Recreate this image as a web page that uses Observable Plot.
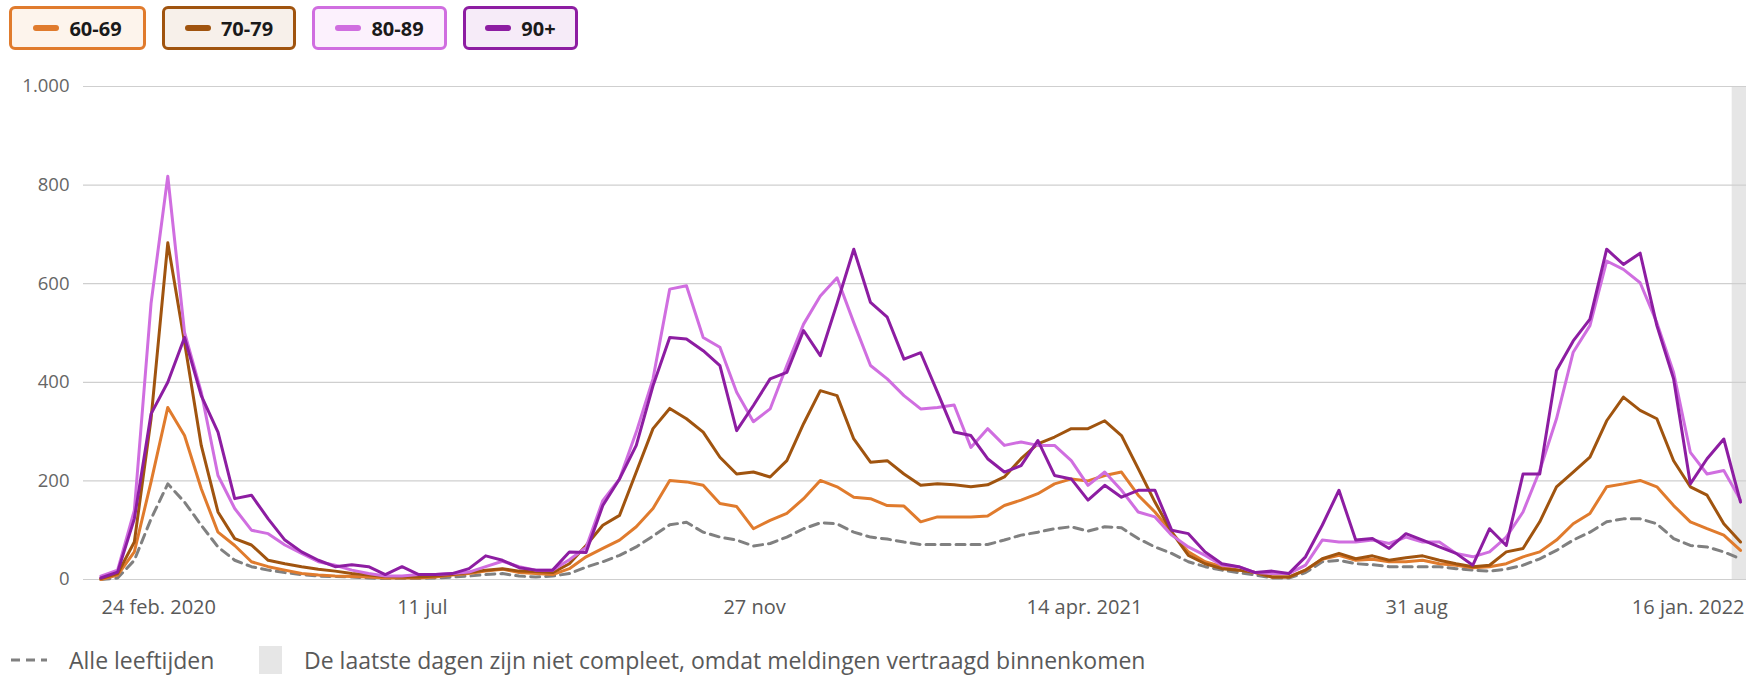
<!DOCTYPE html>
<html>
<head>
<meta charset="utf-8">
<script src="https://cdn.jsdelivr.net/npm/d3@7"></script>
<script src="https://cdn.jsdelivr.net/npm/@observablehq/plot@0.6"></script>
<style>
  html, body { margin: 0; padding: 0; background: #fff; }
  body { width: 1753px; height: 684px; position: relative; overflow: hidden; font-family: "Open Sans", "Noto Sans", sans-serif; }
  #legend { position: absolute; left: 9px; top: 6px; display: flex; gap: 16px; }
  .box { box-sizing: border-box; height: 44px; border: 3px solid; border-radius: 6px; display: flex; align-items: center; justify-content: center; gap: 10px; font-weight: 700; font-size: 20px; color: #1a1a1a; }
  .sw { width: 26px; height: 6px; border-radius: 3px; }
  #chart { position: absolute; left: 0; top: 60px; }
  #bottom { position: absolute; left: 0; top: 640px; width: 1753px; height: 40px; font-size: 23px; color: #595959; }
  #bottom .item { position: absolute; top: 0; height: 40px; display: flex; align-items: center; }
</style>
</head>
<body>
<div id="legend"></div>
<div id="chart"></div>
<div id="bottom">
  <div class="item" style="left:11px"><svg width="36" height="6"><line x1="0" y1="3" x2="36" y2="3" stroke="#808080" stroke-width="3" stroke-dasharray="9,6"/></svg></div>
  <div class="item" style="left:69px">Alle leeftijden</div>
  <div class="item" style="left:259px"><div style="width:23px;height:28px;background:#e6e6e6"></div></div>
  <div class="item" style="left:304px">De laatste dagen zijn niet compleet, omdat meldingen vertraagd binnenkomen</div>
</div>
<script>
// ---- data ----
const firstWeek = "2020-02-24";
const ageGroups = ["60-69", "70-79", "80-89", "90+"];
const ageColors = ["#e07b2d", "#a0540f", "#d06ee0", "#8d1da2"];
const legendBg = ["#fdf4ec", "#f7f0ea", "#fcf1fd", "#f6ebf8"];

const allAges = [0,3,39,123,194,157,110,66,39,26,19,14,10,7,6,5,3,2,2,2,3,5,7,10,12,
  7,5,7,12,25,36,49,66,88,111,116,96,86,80,68,73,86,103,115,113,96,86,82,76,71,
  71,71,71,71,80,90,96,103,107,98,107,105,83,66,53,36,26,19,14,9,3,3,14,36,39,
  32,30,26,26,26,26,22,19,17,21,29,42,59,80,96,117,123,123,113,83,69,66,56,42];
const v60 = [0,9,56,198,349,292,184,96,69,36,26,19,12,9,7,6,5,3,3,3,5,9,12,17,21,
  14,12,10,22,46,63,80,107,144,201,198,191,154,148,103,120,134,164,201,188,167,164,150,149,117,
  127,127,127,129,150,161,174,194,204,200,211,218,171,137,96,56,36,26,19,14,5,5,19,41,49,
  39,41,36,36,39,32,29,24,26,32,46,56,80,113,134,188,194,201,188,150,117,103,90,59];
const v70 = [2,12,76,326,683,481,272,137,83,70,39,32,26,21,17,12,9,6,5,5,7,10,14,19,22,
  17,16,14,32,69,110,130,218,306,347,326,299,248,214,218,208,241,316,383,373,285,238,241,214,191,
  194,192,188,192,208,245,275,289,306,306,322,292,225,157,96,49,32,22,19,14,5,5,19,42,53,
  42,48,39,44,48,39,32,26,29,56,63,117,188,218,248,322,370,343,326,241,188,171,113,76];
const v80 = [7,19,140,560,818,501,380,211,144,100,93,70,53,36,29,19,12,7,7,10,10,12,15,26,37,
  26,19,19,40,65,160,204,299,407,589,596,491,471,380,320,346,434,518,575,612,521,434,407,373,346,
  349,354,268,306,272,279,272,272,241,191,218,181,137,127,90,66,49,29,26,14,12,12,29,80,76,
  76,80,73,86,76,76,53,46,56,86,137,221,326,461,515,646,629,602,521,420,258,214,221,161];
const v90 = [3,15,123,336,400,491,373,299,164,171,123,80,56,39,26,30,26,10,26,10,10,12,22,48,39,
  24,19,19,56,55,150,204,272,393,491,488,464,434,302,353,407,420,505,454,560,670,562,532,447,460,
  380,299,292,245,218,231,282,211,204,161,191,167,181,181,100,93,56,32,26,14,17,12,46,110,181,
  80,83,63,93,80,66,53,29,103,69,214,214,424,484,528,670,639,662,515,407,194,245,285,157];
const yTicks = [0, 200, 400, 600, 800, 1000];
const xTickDates = ["2020-02-24", "2020-07-11", "2020-11-27", "2021-04-14", "2021-08-31", "2022-01-16"];
const xTickLabels = ["24 feb. 2020", "11 jul", "27 nov", "14 apr. 2021", "31 aug", "16 jan. 2022"];
const xDomain = ["2020-02-24", "2022-01-16"];
const incomplete = [{start: "2022-01-10", end: "2022-01-16"}];

// ---- build tables ----
const DAY = 864e5;
const t0 = new Date(firstWeek + "T00:00:00Z").getTime();
const weekMid = i => new Date(t0 + (7 * i + 3.5) * DAY);
const seriesVals = [v60, v70, v80, v90];
const ageRows = [];
seriesVals.forEach((arr, s) => arr.forEach((v, i) => ageRows.push({date: weekMid(i), group: ageGroups[s], value: v})));
const allRows = allAges.map((v, i) => ({date: weekMid(i), value: v}));
const toDate = s => new Date(s + "T00:00:00Z");
const ticks = xTickDates.map((d, i) => ({date: toDate(d), label: xTickLabels[i]}));
const band = incomplete.map(d => ({start: toDate(d.start), end: toDate(d.end)}));

const nl = d3.formatLocale({decimal: ",", thousands: ".", grouping: [3], currency: ["€", ""]});
const fmt = nl.format(",");

// ---- legend ----
const legendWidths = [137, 134, 135, 115];
const leg = document.getElementById("legend");
ageGroups.forEach((g, i) => {
  const b = document.createElement("div");
  b.className = "box";
  b.style.borderColor = ageColors[i];
  b.style.background = legendBg[i];
  b.style.width = legendWidths[i] + "px";
  const sw = document.createElement("div");
  sw.className = "sw";
  sw.style.background = ageColors[i];
  const t = document.createElement("span");
  t.textContent = g;
  b.appendChild(sw); b.appendChild(t);
  leg.appendChild(b);
});

// ---- chart ----
const chart = Plot.plot({
  width: 1753,
  height: 570,
  marginTop: 26,
  marginBottom: 51,
  marginLeft: 92,
  marginRight: 7,
  style: {fontFamily: "'Open Sans', 'Noto Sans', sans-serif", background: "transparent"},
  x: {type: "utc", domain: xDomain.map(toDate), axis: null},
  y: {domain: [0, 1000], axis: null},
  color: {domain: ageGroups, range: ageColors},
  marks: [
    Plot.rect(band, {x1: "start", x2: "end", fill: "#e6e6e6"}),
    Plot.ruleY(yTicks, {stroke: "#cfcfcf", strokeWidth: 1.2, insetLeft: -9}),
    Plot.axisY({ticks: yTicks, tickFormat: fmt, tickSize: 0, tickPadding: 23, fontSize: 18.5, color: "#666", label: null}),
    Plot.line(allRows, {x: "date", y: "value", stroke: "#808080", strokeWidth: 3, strokeDasharray: "9,6"}),
    Plot.line(ageRows, {x: "date", y: "value", z: "group", stroke: "group", strokeWidth: 3, strokeLinejoin: "round"}),
    Plot.text(ticks.slice(0, 1), {x: "date", text: "label", frameAnchor: "bottom", dy: 34, dx: 9, textAnchor: "start", fontSize: 20, fill: "#595959"}),
    Plot.text(ticks.slice(1, -1), {x: "date", text: "label", frameAnchor: "bottom", dy: 34, textAnchor: "middle", fontSize: 20, fill: "#595959"}),
    Plot.text(ticks.slice(-1), {x: "date", text: "label", frameAnchor: "bottom", dy: 34, dx: -2, textAnchor: "end", fontSize: 20, fill: "#595959"})
  ]
});
document.getElementById("chart").appendChild(chart);
</script>
</body>
</html>
